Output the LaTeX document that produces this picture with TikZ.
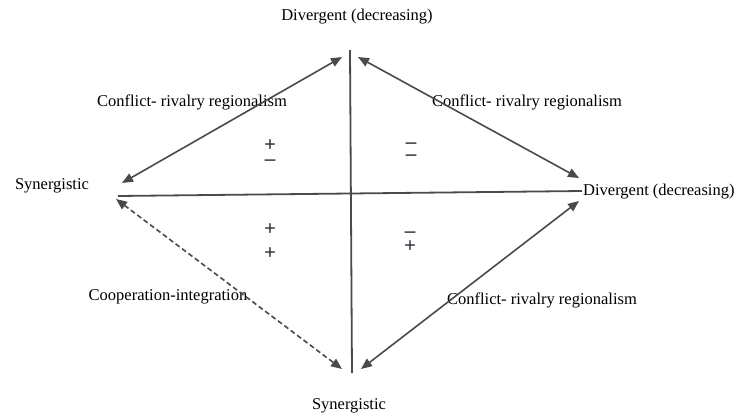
\documentclass[tikz,border=0pt]{standalone}
\usepackage{fontspec}
\setmainfont{Liberation Serif}
\usetikzlibrary{arrows.meta}
\definecolor{axisgray}{HTML}{4A4A4A}
\definecolor{signgray}{HTML}{333340}
\begin{document}
\begin{tikzpicture}[x=1pt,y=-1pt,
  lbl/.style={inner sep=0pt,font=\fontsize{16.5}{18}\selectfont,text=black},
  sgn/.style={inner sep=0pt,align=center,text=signgray},
  axisline/.style={draw=axisgray,line width=1.8pt},
  dblarrow/.style={draw=axisgray,line width=1.6pt,{Triangle[length=11pt,width=9pt]}-{Triangle[length=11pt,width=9pt]}},
  dasharrow/.style={dblarrow,dashed,dash pattern=on 5pt off 3pt}]
\useasboundingbox (0,0) rectangle (740,416);
% axes
\coordinate (vt) at (350,50);
\coordinate (vb) at (352,373);
\coordinate (hl) at (118,196);
\coordinate (hr) at (582,191);
\draw[axisline] (vt) -- (vb);
\draw[axisline] (hl) -- (hr);
% labels
\node[lbl] (top) at (357,17) {Divergent (decreasing)};
\node[lbl] (left) at (52,186) {Synergistic};
\node[lbl,anchor=west] (right) at (583,192) {Divergent (decreasing)};
\node[lbl] (bottom) at (349,406) {Synergistic};
\node[lbl] (ctl) at (192,102) {Conflict- rivalry regionalism};
\node[lbl] (ctr) at (527,102) {Conflict- rivalry regionalism};
\node[lbl] (coop) at (168,297) {Cooperation-integration};
\node[lbl] (cbr) at (542,300) {Conflict- rivalry regionalism};
% arrow endpoints
\coordinate (a1) at (342,57);
\coordinate (a2) at (122,183);
\coordinate (b1) at (358,57);
\coordinate (b2) at (579,178);
\coordinate (c1) at (116,199);
\coordinate (c2) at (342,369);
\coordinate (d1) at (361,369);
\coordinate (d2) at (579,201);
\draw[dblarrow] (a1) -- (a2);
\draw[dblarrow] (b1) -- (b2);
\draw[dasharrow] (c1) -- (c2);
\draw[dblarrow] (d1) -- (d2);
% signs
\node[sgn,font=\fontsize{21}{14}\selectfont\bfseries] (q1) at (270,153) {+\\–};
\node[sgn,font=\fontsize{21}{12}\selectfont\bfseries] (q2) at (411,152) {–\\–};
\node[sgn,font=\fontsize{21}{15}\selectfont\bfseries] (q3) at (270,242) {+\\[9pt]+};
\node[sgn,font=\fontsize{21}{15}\selectfont\bfseries] (q4) at (410,242) {–\\+};
\end{tikzpicture}
\end{document}
